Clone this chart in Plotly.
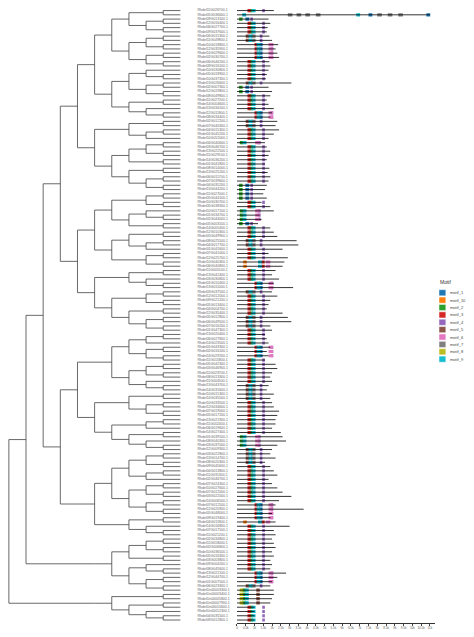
import plotly.graph_objects as go

# tree topology (tips in order top -> bottom)
g1 = "((((a,a),((a,a),(a,a))),(((a,a),(a,a)),((a,a),(a,a)))),(((a,(a,a)),((a,a),(a,a))),((a,a),(a,(a,a)))))"
g2 = "(((a,a),((a,a),a)),((((a,a),(a,a)),(a,a)),((a,a),((a,a),(a,a)))))"
g3 = "((((a,a),(a,a)),((a,(a,a)),(a,a))),(((a,a),((a,a),a)),((a,a),(a,a))))"
g4 = "(((a,a),(a,(a,a))),(((a,a),(a,a)),((a,a),((a,a),(a,a)))))"
g5 = "((((a,a),a),((a,a),(a,a))),(((a,a),(a,a)),(a,(a,a))))"
g6 = "(((a,a),((a,a),(a,a))),(((a,a),a),((a,a),(a,(a,a)))))"
g7 = "((((a,a),(a,a)),((a,a),a)),(((a,a),(a,a)),((a,a),(a,a))))"
g8 = "((a,a),(a,(a,a)))"
g9 = "((((a,a),(a,a)),(a,a)),((a,(a,a)),((a,a),(a,a))))"
g10 = "((a,a),((a,a),(a,(a,a))))"
newick = "(((((" + g1 + "," + g2 + "),(" + g3 + "," + g4 + ")),((" + g5 + "," + g6 + "),(" + g7 + "," + g8 + "))),(" + g9 + ")),(" + g10 + "))"

gene_ids = """11G026700 05G036600 09G013100 12G016400 06G027700 09G037600 06G015300 11G049800
10G018800 12G035900 14G029600 02G030700 06G046200 09G016100 10G030800 05G018900
10G037300 13G026600 02G007300 12G019800 08G049800 11G027200 14G004600 13G034100
12G011800 08G034400 02G012200 07G040300 04G015300 01G045200 10G052000 04G040600
03G046700 13G022500 11G029100 14G036200 01G041800 08G014000 13G025200 06G011700
07G039600 04G035200 13G044200 11G027000 05G044100 10G030700 05G038300 10G017100
01G034700 02G044000 05G003100 14G005400 12G010300 05G049900 08G025500 04G017700
01G041600 07G041000 12G025700 10G040300 06G040800 11G005100 13G042400 03G030800
01G010400 13G011000 03G037500 12G012000 09G021200 05G013400 04G004700 12G035400
05G012800 06G049500 07G016200 01G047300 13G020400 06G027800 14G023500 01G043300
02G016100 14G029200 11G015800 05G042300 03G046900 11G023700 08G013300 11G004500
13G043700 14G031600 10G015300 14G035500 10G033500 12G034600 07G019000 05G017200
13G021900 11G002400 06G019600 14G027400 01G039100 08G040300 03G037000 12G009300
03G022800 13G014700 08G020300 09G045600 04G013800 11G031300 02G046700 07G024300
10G027600 07G012000 03G022000 14G006500 07G012500 12G020900 05G048000 09G019400
04G011800 14G016800 07G017500 11G021200 02G034800 11G018000 02G006800 10G036500
05G016300 03G003800 09G004200 08G045600 13G022100 12G044700 01G007500 06G023300
Un00003300 Un00003400 Un00005800 Un00007900 Un00010600 Un00012300 04G035500 09G012800""".split()

# gene length (aa-scale units)
gene_len = [2100, 11000, 1800, 1900, 1750, 1700, 1850, 2000, 2350, 2200, 2300, 2400, 1850, 1900, 1800, 1700,
            1650, 3100, 1800, 2000, 1900, 1700, 1800, 2100, 2000, 1900, 2300, 2200, 2400, 2100, 1800, 1600,
            1700, 1900, 1800, 1700, 1600, 1850, 1750, 1900, 1800, 1700, 1600, 1500, 1700, 1400, 1900, 2100,
            1300, 1400, 1200, 1900, 2100, 2300, 3400, 3500, 2600, 1800, 2900, 2700, 2600, 2200, 2000, 2400,
            2100, 3200, 2000, 2300, 1900, 1800, 1700, 2600, 2900, 3100, 1900, 2000, 1600, 1700, 1800, 1900,
            1700, 1800, 1600, 2200, 2300, 2000, 1900, 2000, 1800, 1700, 2100, 1900, 2000, 2100, 2400, 2300,
            2200, 2200, 2000, 2500, 2600, 2800, 2300, 2000, 1900, 2200, 1600, 1900, 2100, 2300, 1800, 2000,
            2300, 2600, 3100, 2400, 2200, 3800, 2000, 1900, 2200, 3000, 2100, 2200, 2000, 2100, 2200, 2000,
            2100, 1900, 2000, 1900, 2800, 2300, 2000, 1900, 2100, 2100, 2000, 1900, 1000, 1000, 1000, 1000]

# motif layouts (motif number: start)
patterns = {
    "A": [(3, 600), (2, 720), (9, 840), (4, 1440)],
    "B": [(2, 160), (9, 320), (6, 1040), (4, 1200)],
    "C": [(5, 500), (9, 660), (7, 800), (4, 1300)],
    "D": [(3, 1000), (9, 1120), (1, 1240), (6, 1800), (4, 1920)],
    "E": [(2, 120), (1, 480), (4, 760)],
    "F": [(10, 360), (9, 1200), (3, 1400), (6, 1640)],
    "H": [(8, 150), (2, 300), (9, 450), (5, 1100)],
    "G": [(9, 300), (7, 2900), (7, 3400), (7, 3900), (7, 4500), (9, 6800), (1, 7500),
          (7, 8000), (7, 8600), (7, 9200), (1, 10800)],
}
gene_pattern = ("AGEAAACC" "DDDDAAAA" "ACEEAAAA" "DDCCAAAB" "AAAAAAAA" "AEEEEAAB"
                "BBEAAACC" "AAAFFAAA" "DDCAAAAA" "CCCAAAAD" "DDAAAAAA" "CCCCAAAA"
                "AAAABBBC" "CCCAAAAA" "AAAADDDD" "FAAAAAAA" "AAAADDDC" "HHHHAAAA" "EEEE")

motif_names = ["motif_1", "motif_10", "motif_2", "motif_3", "motif_4",
               "motif_5", "motif_6", "motif_7", "motif_8", "motif_9"]
motif_colors = ["#1F77B4", "#FF7F0E", "#2CA02C", "#D62728", "#9467BD",
                "#8C564B", "#E377C2", "#7F7F7F", "#BCBD22", "#17BECF"]
motif_width = {1: 220, 2: 200, 3: 180, 4: 150, 5: 200, 6: 260, 7: 260, 8: 200, 9: 220, 10: 200}


def parse(s):
    pos = [0]

    def node():
        if s[pos[0]] == "(":
            pos[0] += 1
            kids = [node()]
            while s[pos[0]] == ",":
                pos[0] += 1
                kids.append(node())
            pos[0] += 1
            return kids
        pos[0] += 1
        return None
    return node()


tree = parse(newick)
seg_x, seg_y = [], []
tip_count = [0]


def layout(n):
    # returns (height, y); tips aligned at height 0
    if n is None:
        y = -tip_count[0]
        tip_count[0] += 1
        return 0, y
    res = [layout(k) for k in n]
    h = 1 + max(r[0] for r in res)
    ys = [r[1] for r in res]
    for kh, ky in res:
        seg_x.extend([-h, -kh, None])
        seg_y.extend([ky, ky, None])
    seg_x.extend([-h, -h, None])
    seg_y.extend([min(ys), max(ys), None])
    return h, sum(ys) / len(ys)


root_h, root_y = layout(tree)
H = root_h
n_tip = tip_count[0]
rows = [-i for i in range(n_tip)]
labels = ["Rhdel" + g + ".1" for g in gene_ids[:n_tip]]

fig = go.Figure()
fig.add_trace(go.Scatter(x=seg_x, y=seg_y, mode="lines", line=dict(color="#444", width=0.8),
                         showlegend=False, hoverinfo="skip"))
fig.add_trace(go.Scatter(x=[H * 0.1] * n_tip, y=rows, mode="text", text=labels, textposition="middle right",
                         textfont=dict(size=3.5, color="#666"), showlegend=False))

bx, by = [], []
for i in range(n_tip):
    bx.extend([0, gene_len[i], None])
    by.extend([rows[i], rows[i], None])
fig.add_trace(go.Scatter(x=bx, y=by, mode="lines", line=dict(color="black", width=0.8),
                         xaxis="x2", showlegend=False, hoverinfo="skip"))

for m, (name, col) in enumerate(zip(motif_names, motif_colors)):
    num = int(name.split("_")[1])
    xs, bs, ys = [], [], []
    for i in range(n_tip):
        for mn, st in patterns[gene_pattern[i]]:
            if mn == num:
                xs.append(motif_width[num])
                bs.append(st)
                ys.append(rows[i])
    fig.add_trace(go.Bar(x=xs, base=bs, y=ys, orientation="h", width=0.75, name=name,
                         marker=dict(color=col, line=dict(width=0)), xaxis="x2", showlegend=False))

# hand-drawn compact legend (paper coords)
lx0, ly0 = 1.005, 0.555
fig.add_annotation(x=lx0, y=ly0, xref="paper", yref="paper", text="Motif", showarrow=False,
                   xanchor="left", yanchor="middle", font=dict(size=5, color="#333"))
for k, (name, col) in enumerate(zip(motif_names, motif_colors)):
    yc = ly0 - 0.018 - k * 0.012
    fig.add_shape(type="rect", xref="paper", yref="paper", x0=lx0 + 0.002, x1=lx0 + 0.018,
                  y0=yc - 0.005, y1=yc + 0.005, fillcolor=col, line=dict(width=0.5, color="white"))
    fig.add_annotation(x=lx0 + 0.024, y=yc, xref="paper", yref="paper", text=name, showarrow=False,
                       xanchor="left", yanchor="middle", font=dict(size=4, color="#444"))

fig.update_layout(
    width=466, height=629, plot_bgcolor="white", paper_bgcolor="white",
    margin=dict(l=0, r=38, t=0, b=14), barmode="overlay", showlegend=False,
    xaxis=dict(domain=[0, 0.523], range=[-H - 0.05, H * 0.3], visible=False),
    xaxis2=dict(domain=[0.535, 0.998], range=[0, 11300], anchor="y", showgrid=False, zeroline=False,
                tickmode="linear", tick0=0, dtick=500, tickangle=0, tickfont=dict(size=3, color="#555"),
                showline=True, linecolor="#333", linewidth=0.6, ticks="outside", ticklen=2),
    yaxis=dict(range=[-n_tip + 0.3, 0.6], visible=False),
    font=dict(family="Liberation Sans"),
)
fig.write_html("out.html")
